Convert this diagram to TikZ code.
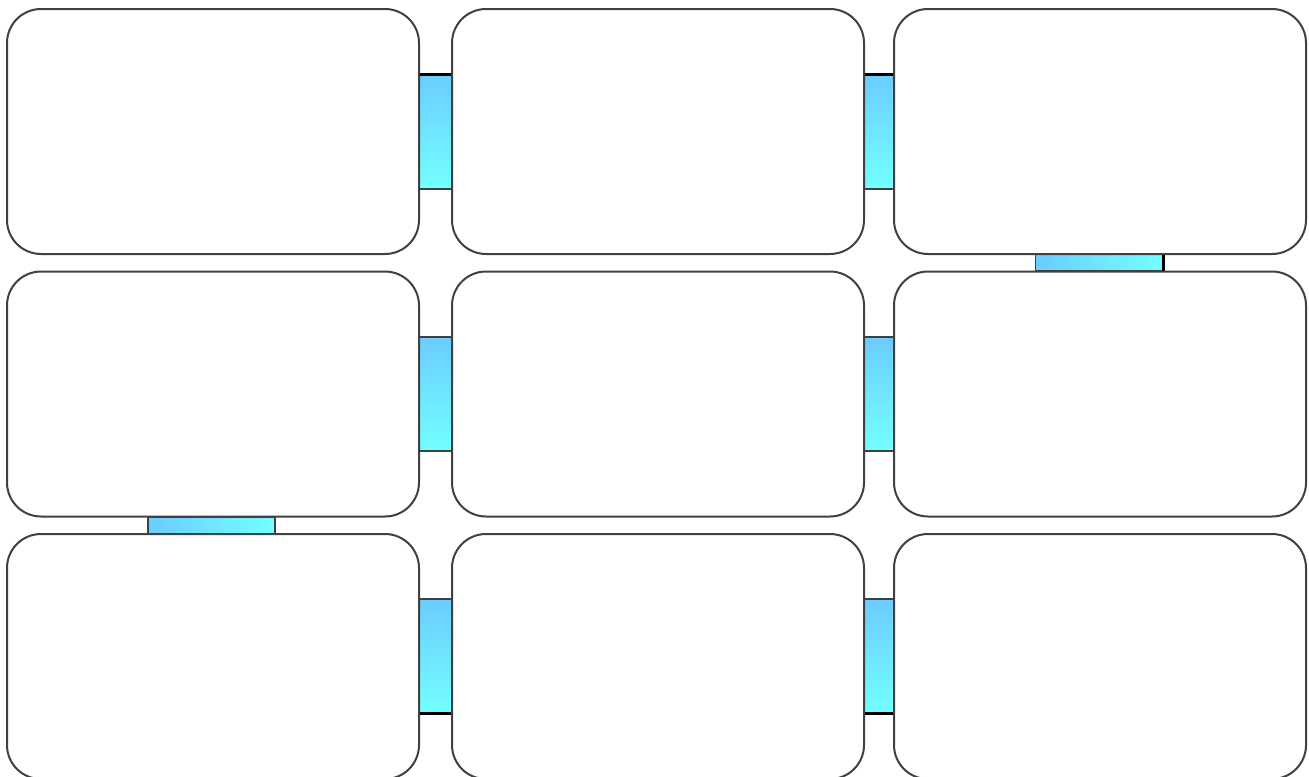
\documentclass[tikz,border=0pt]{standalone}
\usetikzlibrary{positioning}
\definecolor{linkA}{RGB}{108,204,255}
\definecolor{linkB}{RGB}{114,255,255}
\tikzset{
  panel/.style={draw=black!75, line width=1pt, rounded corners=17pt, fill=white,
    minimum width=206pt, minimum height=122.5pt, inner sep=0pt},
  hlink/.style={draw=black!75, line width=0.6pt, top color=linkA, bottom color=linkB,
    minimum width=16.5pt, minimum height=57pt, inner sep=0pt},
  vlink/.style={draw=black!75, line width=0.6pt, left color=linkA, right color=linkB,
    minimum width=63.5pt, minimum height=8.5pt, inner sep=0pt},
}
\begin{document}
\begin{tikzpicture}[x=0.5pt, y=-0.5pt]
        \useasboundingbox (0,0) rectangle (1309,776);
        % Connectors first, the panels sit over their ends
        \node[hlink] (h11) at (435.5,132) {};
        \node[hlink] (h12) at (879,132) {};
        \node[hlink] (h21) at (435.5,394) {};
        \node[hlink] (h22) at (879,394) {};
        \node[hlink] (h31) at (435.5,656) {};
        \node[hlink] (h32) at (879,656) {};
        \node[vlink] (v13) at (1099,262.5) {};
        \node[vlink] (v21) at (211.5,525.5) {};
        % Heavy edges
        \draw[line width=1.5pt] (h11.north west) -- (h11.north east);
        \draw[line width=1.5pt] (h12.north west) -- (h12.north east);
        \draw[line width=1.5pt] (h31.south west) -- (h31.south east);
        \draw[line width=1.5pt] (h32.south west) -- (h32.south east);
        \draw[line width=1.5pt] (v13.north east) -- (v13.south east);

        % Panels, three rows
        \foreach \r/\y in {1/131.5, 2/394, 3/656.5}{
          \node[panel] (p\r1) at (213,\y) {};
          \node[panel] (p\r2) at (658,\y) {};
          \node[panel] (p\r3) at (1100,\y) {};
        }
    \end{tikzpicture}
\end{document}
